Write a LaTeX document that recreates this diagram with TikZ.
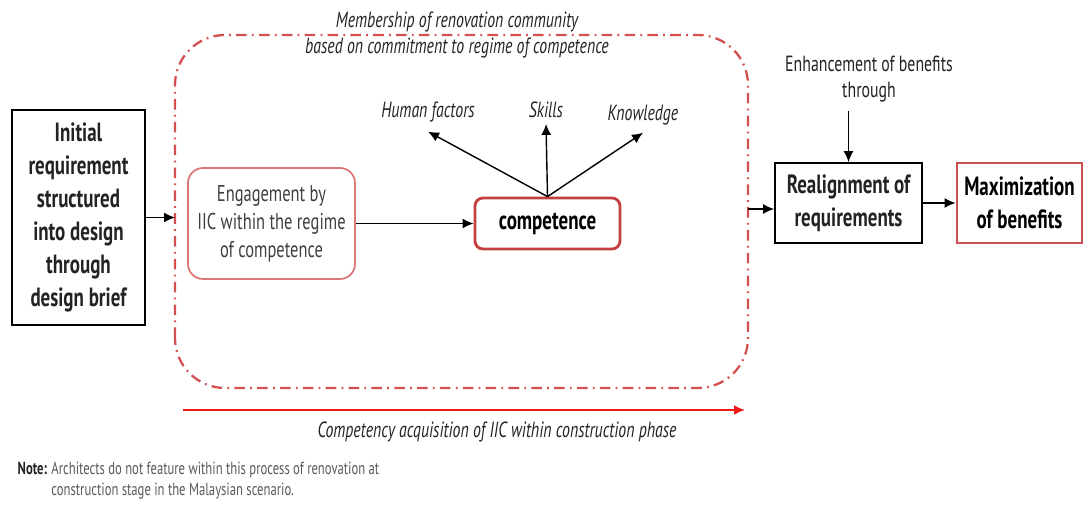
\documentclass[tikz,border=0pt]{standalone}
\usepackage{fontspec}
\setmainfont{PT Sans}[FakeStretch=0.72]
\usetikzlibrary{arrows.meta,positioning,calc}

\definecolor{framered}{RGB}{212,80,80}
\definecolor{boxred}{RGB}{196,62,62}
\definecolor{softred}{RGB}{222,120,120}
\definecolor{arrowred}{RGB}{240,24,24}
\definecolor{inkgray}{RGB}{35,35,35}
\definecolor{notegray}{RGB}{90,90,90}

\begin{document}
\begin{tikzpicture}[>={Latex[length=2.2mm,width=2mm]}, line width=0.8pt,
  blackbox/.style={draw, line width=1pt, align=center, text=inkgray, font=\bfseries\fontsize{15}{18.8}\selectfont},
  redbox/.style={draw=boxred, line width=1.6pt, align=center, font=\bfseries\fontsize{15}{18.8}\selectfont},
  smalltext/.style={align=center, text=inkgray, font=\itshape\fontsize{12.5}{16}\selectfont}]
  \useasboundingbox (0,0) rectangle (21.68,10.14);

  % frame of the renovation community
  \draw[framered, line width=1.3pt, rounded corners=1cm, dash pattern=on 6pt off 3pt on 1pt off 3pt]
    (3.5,2.38) rectangle (14.96,9.44);
  \node[smalltext] (member) at (9.14,9.44) {Membership of renovation community\\[-1pt] based on commitment to regime of competence};

  \node[blackbox, minimum width=2.66cm, minimum height=4.3cm] (brief) at (1.57,5.79)
    {Initial\\ requirement\\ structured\\ into design\\ through\\ design brief};
  \node[draw=softred, line width=1pt, rounded corners=0.3cm, minimum width=3.34cm, minimum height=2.22cm,
    align=center, text=notegray!70!black, font=\fontsize{13}{16}\selectfont] (engage) at (5.43,5.67)
    {Engagement by\\ IIC within the regime\\ of competence};
  \node[redbox, rounded corners=0.16cm, minimum width=2.9cm, minimum height=1.02cm] (comp) at (10.95,5.67) {competence};

  \node[smalltext, inner sep=5pt] (human) at (8.56,7.9) {Human factors};
  \node[smalltext, inner sep=3pt] (skills) at (10.92,7.94) {Skills};
  \node[smalltext, inner sep=4pt] (know) at (12.86,7.84) {Knowledge};

  \node[blackbox, minimum width=2.94cm, minimum height=1.6cm] (realign) at (16.97,6.08) {Realignment of\\ requirements};
  \node[redbox, draw=boxred!90!white, minimum width=2.5cm, minimum height=1.6cm] (maxim) at (20.39,6.08) {Maximization\\ of benefits};
  \node[align=center, text=inkgray, font=\fontsize{12.5}{14.5}\selectfont, inner sep=5pt] (enhance) at (17.38,8.56)
    {Enhancement of benefits\\ through};

  \coordinate (frameout) at (14.96,5.96);
  \coordinate (acqstart) at (3.66,1.94);
  \coordinate (acqend) at (14.9,1.94);

  \draw[->] (brief.east) -- (brief.east -| 3.5,0);
  \draw[->] (engage) -- (comp);
  \draw[->] (comp.north) -- (human.south);
  \draw[->] (comp.north) -- (skills.south);
  \draw[->] (comp.north) -- (know.south);
  \draw[->] (frameout) -- (realign.west |- frameout);
  \draw[->] (enhance.south -| realign.north) -- (realign.north);
  \draw[->] (realign) -- (maxim);

  \draw[arrowred, line width=1.2pt, ->] (acqstart) -- (acqend);
  \node[smalltext] (acq) at (9.94,1.5) {Competency acquisition of IIC within construction phase};

  \node[anchor=west, text=notegray, font=\fontsize{10}{12}\selectfont, inner sep=0pt] (note) at (0.34,0.52)
    {\begin{tabular}{@{}l@{ }l@{}}\textbf{\color{inkgray}Note:} & Architects do not feature within this process of renovation at\\
     & construction stage in the Malaysian scenario.\end{tabular}};
\end{tikzpicture}
\end{document}
